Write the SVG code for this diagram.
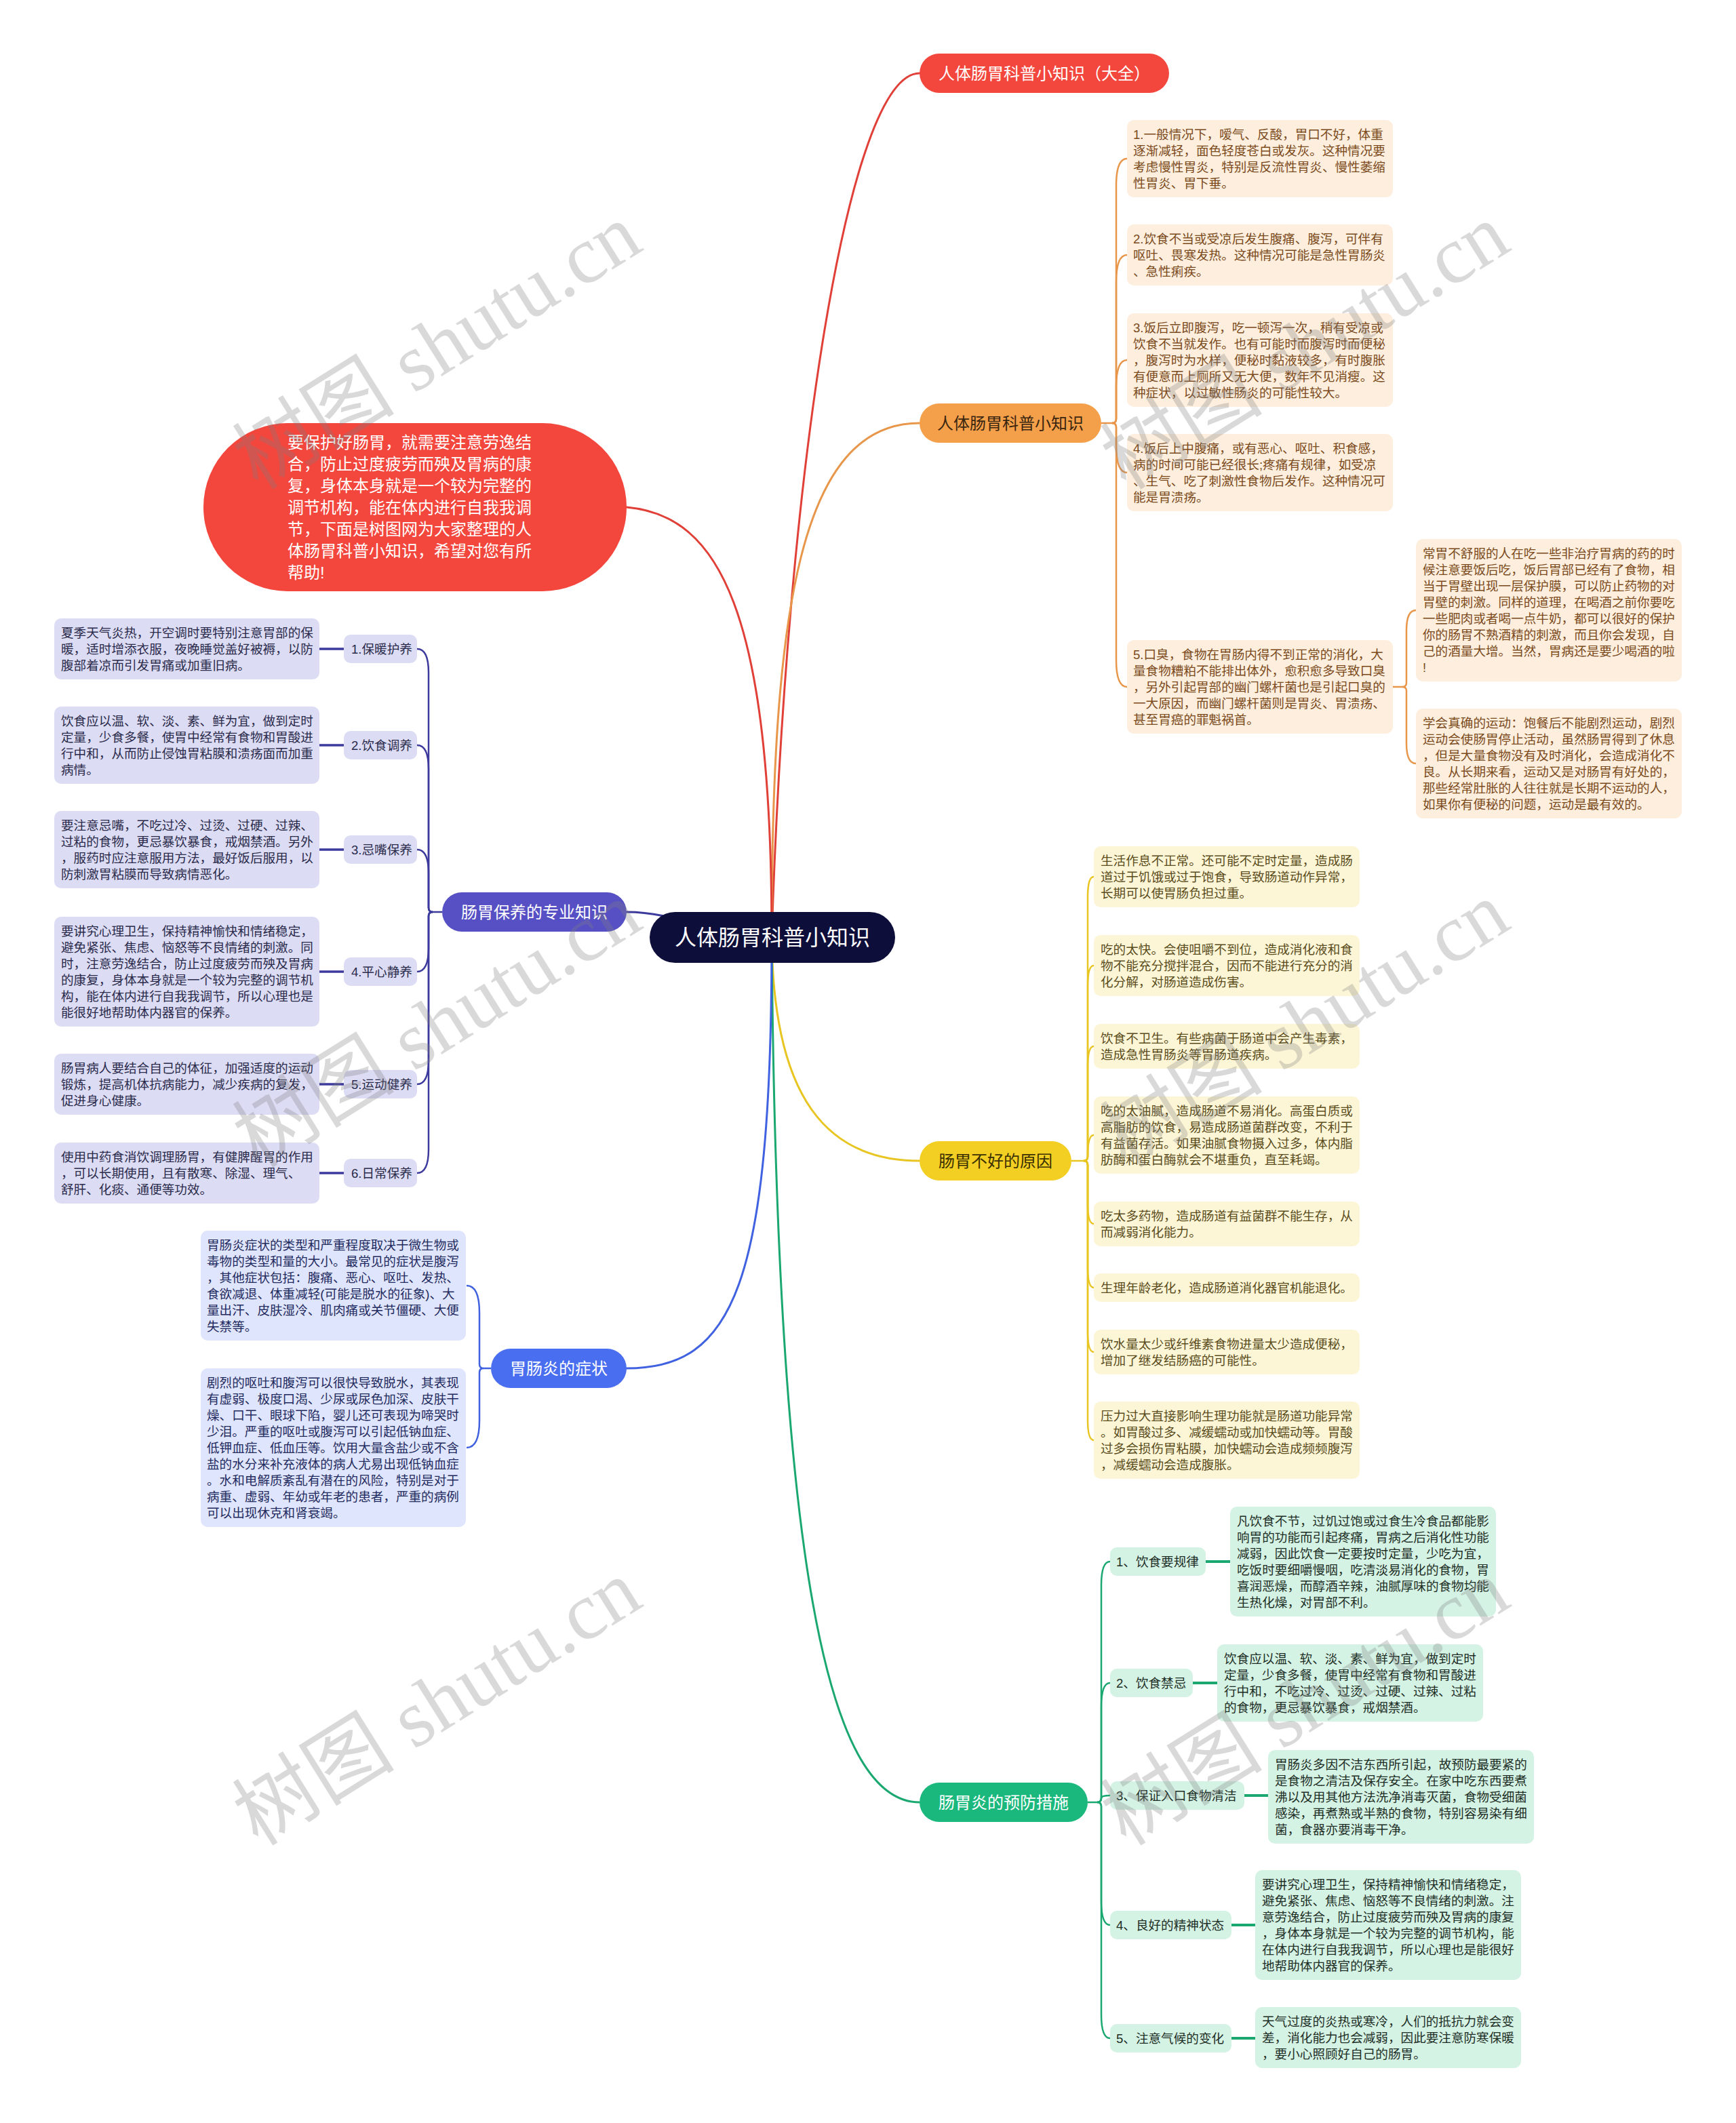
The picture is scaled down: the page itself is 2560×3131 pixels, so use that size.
<svg xmlns="http://www.w3.org/2000/svg" width="2560" height="3131" viewBox="0 0 2560 3131">
<style>
text{font-family:"Liberation Sans","Noto Sans CJK SC",sans-serif}
.t{font-size:18.6px}
.n{font-size:24px;text-anchor:middle}
.c{fill:none;stroke-width:3;stroke-linecap:round}
.ob{fill:#fdeedd}.ot{fill:#7b4a1c}
.yb{fill:#fdf6d6}.yt{fill:#5a4c1c}
.gb{fill:#d4f3e4}.gt{fill:#1e2e26}
.pb{fill:#dcdcf5}.pt{fill:#2a2a4a}
.bb{fill:#dfe5fc}.bt{fill:#1f2a5e}
.wm{font-family:"Liberation Serif","Noto Sans CJK SC",serif;font-size:120px;fill:#808080;fill-opacity:0.3;text-anchor:middle}
</style>
<rect width="2560" height="3131" fill="#ffffff"/>
<g id="connectors">
<path class="c" stroke="#e04038" d="M1138 1382 C1160 700 1250 108 1356 108"/>
<path class="c" stroke="#e8964a" d="M1138 1382 C1138 900 1180 624 1356 624"/>
<path class="c" stroke="#e8c520" d="M1138 1382 C1140 1620 1220 1712 1356 1712"/>
<path class="c" stroke="#1aa870" d="M1138 1382 C1145 2300 1220 2658 1356 2658"/>
<path class="c" stroke="#4062e0" d="M1138 1382 C1138 1900 1080 2018 924 2018"/>
<path class="c" stroke="#3c3a9c" d="M924 1345 C1000 1345 1060 1382 1138 1382"/>
<path class="c" stroke="#e04038" d="M924 748 C1060 760 1138 900 1138 1382"/>
<g stroke="#e8964a" stroke-width="2.5" fill="none">
<path d="M1624 624 L1640 624 Q1646 624 1646 618 L1646 274 Q1646 234 1662 234"/>
<path d="M1640 624 Q1646 624 1646 618 L1646 416 Q1646 376 1662 376"/>
<path d="M1640 624 Q1646 624 1646 618 L1646 571 Q1646 531 1662 531"/>
<path d="M1640 624 Q1646 624 1646 630 L1646 657 Q1646 697 1662 697"/>
<path d="M1640 624 Q1646 624 1646 630 L1646 973 Q1646 1013 1662 1013"/>
<path d="M2054 1013 L2068 1013 Q2074 1013 2074 1007 L2074 930 Q2074 900 2088 900"/>
<path d="M2068 1013 Q2074 1013 2074 1019 L2074 1096 Q2074 1126 2088 1126"/>
</g>
<g stroke="#e8c520" stroke-width="2.5" fill="none">
<path d="M1580 1712 L1598 1712 Q1604 1712 1604 1706 L1604 1323 Q1604 1293 1613 1293"/>
<path d="M1598 1712 Q1604 1712 1604 1706 L1604 1454 Q1604 1424 1613 1424"/>
<path d="M1598 1712 Q1604 1712 1604 1706 L1604 1573 Q1604 1543 1613 1543"/>
<path d="M1598 1712 Q1604 1712 1604 1704 Q1604 1674 1613 1674"/>
<path d="M1598 1712 Q1604 1712 1604 1718 L1604 1775 Q1604 1805 1613 1805"/>
<path d="M1598 1712 Q1604 1712 1604 1718 L1604 1869 Q1604 1899 1613 1899"/>
<path d="M1598 1712 Q1604 1712 1604 1718 L1604 1964 Q1604 1994 1613 1994"/>
<path d="M1598 1712 Q1604 1712 1604 1718 L1604 2094 Q1604 2124 1613 2124"/>
</g>
<g stroke="#1aa870" stroke-width="2.5" fill="none">
<path d="M1604 2658 L1618 2658 Q1624 2658 1624 2652 L1624 2338 Q1624 2303 1637 2303"/>
<path d="M1618 2658 Q1624 2658 1624 2652 L1624 2517 Q1624 2482 1637 2482"/>
<path d="M1618 2658 Q1624 2658 1624 2652 Q1624 2648 1637 2648"/>
<path d="M1618 2658 Q1624 2658 1624 2664 L1624 2804 Q1624 2839 1637 2839"/>
<path d="M1618 2658 Q1624 2658 1624 2664 L1624 2971 Q1624 3006 1637 3006"/>
</g>
<g stroke="#1aa870" stroke-width="4" fill="none">
<path d="M1778 2303 H1814"/>
<path d="M1759 2482 H1795"/>
<path d="M1835 2648 H1870"/>
<path d="M1816 2839 H1851"/>
<path d="M1816 3006 H1851"/>
</g>
<g stroke="#3c3a9c" stroke-width="2.5" fill="none">
<path d="M652 1345 L638 1345 Q632 1345 632 1339 L632 992 Q632 957 615 957"/>
<path d="M638 1345 Q632 1345 632 1339 L632 1134 Q632 1099 615 1099"/>
<path d="M638 1345 Q632 1345 632 1339 L632 1288 Q632 1253 615 1253"/>
<path d="M638 1345 Q632 1345 632 1351 L632 1398 Q632 1433 615 1433"/>
<path d="M638 1345 Q632 1345 632 1351 L632 1564 Q632 1599 615 1599"/>
<path d="M638 1345 Q632 1345 632 1351 L632 1695 Q632 1730 615 1730"/>
</g>
<g stroke="#3c3a9c" stroke-width="3.5" fill="none">
<path d="M471 957 H507"/>
<path d="M471 1099 H507"/>
<path d="M471 1253 H507"/>
<path d="M471 1433 H507"/>
<path d="M471 1599 H507"/>
<path d="M471 1730 H507"/>
</g>
<g stroke="#4062e0" stroke-width="2.5" fill="none">
<path d="M724 2018 L713 2018 Q707 2018 707 2012 L707 1936 Q707 1896 688 1896"/>
<path d="M713 2018 Q707 2018 707 2024 L707 2095 Q707 2135 688 2135"/>
</g>
</g>

<g id="root">
<rect x="958" y="1345" width="362" height="75" rx="37.5" fill="#0e0e3a"/>
<text x="1139" y="1394" font-size="32" fill="#ffffff" text-anchor="middle">人体肠胃科普小知识</text>
</g>

<g id="intro">
<rect x="300" y="624" width="624" height="248" rx="124" fill="#f3463d"/>
<text x="424" y="661" font-size="24" fill="#ffffff"><tspan x="424">要保护好肠胃，就需要注意劳逸结</tspan><tspan x="424" dy="32">合，防止过度疲劳而殃及胃病的康</tspan><tspan x="424" dy="32">复，身体本身就是一个较为完整的</tspan><tspan x="424" dy="32">调节机构，能在体内进行自我我调</tspan><tspan x="424" dy="32">节，下面是树图网为大家整理的人</tspan><tspan x="424" dy="32">体肠胃科普小知识，希望对您有所</tspan><tspan x="424" dy="32">帮助!</tspan></text>
</g>

<g id="b-top">
<rect x="1356" y="79" width="368" height="58" rx="29" fill="#f3463d"/>
<text class="n" x="1540" y="117" fill="#ffffff">人体肠胃科普小知识（大全）</text>
</g>

<g id="b-orange">
<rect x="1356" y="595" width="268" height="58" rx="29" fill="#f4a04a"/>
<text class="n" x="1490" y="633" fill="#3b2610">人体肠胃科普小知识</text>
</g>
<g id="o1"><rect class="ob" x="1662" y="177" width="392" height="114" rx="10"/>
<text class="t ot" x="1671" y="205"><tspan x="1671">1.一般情况下，嗳气、反酸，胃口不好，体重</tspan><tspan x="1671" dy="24">逐渐减轻，面色轻度苍白或发灰。这种情况要</tspan><tspan x="1671" dy="24">考虑慢性胃炎，特别是反流性胃炎、慢性萎缩</tspan><tspan x="1671" dy="24">性胃炎、胃下垂。</tspan></text></g>
<g id="o2"><rect class="ob" x="1662" y="331" width="392" height="90" rx="10"/>
<text class="t ot" x="1671" y="359"><tspan x="1671">2.饮食不当或受凉后发生腹痛、腹泻，可伴有</tspan><tspan x="1671" dy="24">呕吐、畏寒发热。这种情况可能是急性胃肠炎</tspan><tspan x="1671" dy="24">、急性痢疾。</tspan></text></g>
<g id="o3"><rect class="ob" x="1662" y="462" width="392" height="138" rx="10"/>
<text class="t ot" x="1671" y="490"><tspan x="1671">3.饭后立即腹泻，吃一顿泻一次，稍有受凉或</tspan><tspan x="1671" dy="24">饮食不当就发作。也有可能时而腹泻时而便秘</tspan><tspan x="1671" dy="24">，腹泻时为水样，便秘时黏液较多，有时腹胀</tspan><tspan x="1671" dy="24">有便意而上厕所又无大便，数年不见消瘦。这</tspan><tspan x="1671" dy="24">种症状，以过敏性肠炎的可能性较大。</tspan></text></g>
<g id="o4"><rect class="ob" x="1662" y="640" width="392" height="114" rx="10"/>
<text class="t ot" x="1671" y="668"><tspan x="1671">4.饭后上中腹痛，或有恶心、呕吐、积食感，</tspan><tspan x="1671" dy="24">病的时间可能已经很长;疼痛有规律，如受凉</tspan><tspan x="1671" dy="24">、生气、吃了刺激性食物后发作。这种情况可</tspan><tspan x="1671" dy="24">能是胃溃疡。</tspan></text></g>
<g id="o5"><rect class="ob" x="1662" y="944" width="392" height="138" rx="10"/>
<text class="t ot" x="1671" y="972"><tspan x="1671">5.口臭，食物在胃肠内得不到正常的消化，大</tspan><tspan x="1671" dy="24">量食物糟粕不能排出体外，愈积愈多导致口臭</tspan><tspan x="1671" dy="24">，另外引起胃部的幽门螺杆菌也是引起口臭的</tspan><tspan x="1671" dy="24">一大原因，而幽门螺杆菌则是胃炎、胃溃疡、</tspan><tspan x="1671" dy="24">甚至胃癌的罪魁祸首。</tspan></text></g>
<g id="o5a"><rect class="ob" x="2088" y="795" width="392" height="210" rx="10"/>
<text class="t ot" x="2098" y="823"><tspan x="2098">常胃不舒服的人在吃一些非治疗胃病的药的时</tspan><tspan x="2098" dy="24">候注意要饭后吃，饭后胃部已经有了食物，相</tspan><tspan x="2098" dy="24">当于胃壁出现一层保护膜，可以防止药物的对</tspan><tspan x="2098" dy="24">胃壁的刺激。同样的道理，在喝酒之前你要吃</tspan><tspan x="2098" dy="24">一些肥肉或者喝一点牛奶，都可以很好的保护</tspan><tspan x="2098" dy="24">你的肠胃不熟酒精的刺激，而且你会发现，自</tspan><tspan x="2098" dy="24">己的酒量大增。当然，胃病还是要少喝酒的啦</tspan><tspan x="2098" dy="24">!</tspan></text></g>
<g id="o5b"><rect class="ob" x="2088" y="1045" width="392" height="162" rx="10"/>
<text class="t ot" x="2098" y="1073"><tspan x="2098">学会真确的运动：饱餐后不能剧烈运动，剧烈</tspan><tspan x="2098" dy="24">运动会使肠胃停止活动，虽然肠胃得到了休息</tspan><tspan x="2098" dy="24">，但是大量食物没有及时消化，会造成消化不</tspan><tspan x="2098" dy="24">良。从长期来看，运动又是对肠胃有好处的，</tspan><tspan x="2098" dy="24">那些经常肚胀的人往往就是长期不运动的人，</tspan><tspan x="2098" dy="24">如果你有便秘的问题，运动是最有效的。</tspan></text></g>

<g id="b-yellow">
<rect x="1356" y="1683" width="224" height="58" rx="29" fill="#f3cf23"/>
<text class="n" x="1468" y="1721" fill="#3a3000">肠胃不好的原因</text>
</g>
<g id="y1"><rect class="yb" x="1613" y="1248" width="392" height="90" rx="10"/>
<text class="t yt" x="1623" y="1276"><tspan x="1623">生活作息不正常。还可能不定时定量，造成肠</tspan><tspan x="1623" dy="24">道过于饥饿或过于饱食，导致肠道动作异常，</tspan><tspan x="1623" dy="24">长期可以使胃肠负担过重。</tspan></text></g>
<g id="y2"><rect class="yb" x="1613" y="1379" width="392" height="90" rx="10"/>
<text class="t yt" x="1623" y="1407"><tspan x="1623">吃的太快。会使咀嚼不到位，造成消化液和食</tspan><tspan x="1623" dy="24">物不能充分搅拌混合，因而不能进行充分的消</tspan><tspan x="1623" dy="24">化分解，对肠道造成伤害。</tspan></text></g>
<g id="y3"><rect class="yb" x="1613" y="1510" width="392" height="66" rx="10"/>
<text class="t yt" x="1623" y="1538"><tspan x="1623">饮食不卫生。有些病菌于肠道中会产生毒素，</tspan><tspan x="1623" dy="24">造成急性胃肠炎等胃肠道疾病。</tspan></text></g>
<g id="y4"><rect class="yb" x="1613" y="1617" width="392" height="114" rx="10"/>
<text class="t yt" x="1623" y="1645"><tspan x="1623">吃的太油腻，造成肠道不易消化。高蛋白质或</tspan><tspan x="1623" dy="24">高脂肪的饮食，易造成肠道菌群改变，不利于</tspan><tspan x="1623" dy="24">有益菌存活。如果油腻食物摄入过多，体内脂</tspan><tspan x="1623" dy="24">肪酶和蛋白酶就会不堪重负，直至耗竭。</tspan></text></g>
<g id="y5"><rect class="yb" x="1613" y="1772" width="392" height="66" rx="10"/>
<text class="t yt" x="1623" y="1800"><tspan x="1623">吃太多药物，造成肠道有益菌群不能生存，从</tspan><tspan x="1623" dy="24">而减弱消化能力。</tspan></text></g>
<g id="y6"><rect class="yb" x="1613" y="1878" width="392" height="42" rx="10"/>
<text class="t yt" x="1623" y="1906">生理年龄老化，造成肠道消化器官机能退化。</text></g>
<g id="y7"><rect class="yb" x="1613" y="1961" width="392" height="66" rx="10"/>
<text class="t yt" x="1623" y="1989"><tspan x="1623">饮水量太少或纤维素食物进量太少造成便秘，</tspan><tspan x="1623" dy="24">增加了继发结肠癌的可能性。</tspan></text></g>
<g id="y8"><rect class="yb" x="1613" y="2067" width="392" height="114" rx="10"/>
<text class="t yt" x="1623" y="2095"><tspan x="1623">压力过大直接影响生理功能就是肠道功能异常</tspan><tspan x="1623" dy="24">。如胃酸过多、减缓蠕动或加快蠕动等。胃酸</tspan><tspan x="1623" dy="24">过多会损伤胃粘膜，加快蠕动会造成频频腹泻</tspan><tspan x="1623" dy="24">，减缓蠕动会造成腹胀。</tspan></text></g>

<g id="b-green">
<rect x="1356" y="2629" width="248" height="58" rx="29" fill="#1bb87e"/>
<text class="n" x="1480" y="2667" fill="#ffffff">肠胃炎的预防措施</text>
</g>
<g id="gl1"><rect class="gb" x="1637" y="2282" width="141" height="42" rx="10"/><text class="t gt" x="1646" y="2310">1、饮食要规律</text></g>
<g id="gl2"><rect class="gb" x="1637" y="2461" width="122" height="42" rx="10"/><text class="t gt" x="1646" y="2489">2、饮食禁忌</text></g>
<g id="gl3"><rect class="gb" x="1637" y="2627" width="198" height="42" rx="10"/><text class="t gt" x="1646" y="2655">3、保证入口食物清洁</text></g>
<g id="gl4"><rect class="gb" x="1637" y="2818" width="179" height="42" rx="10"/><text class="t gt" x="1646" y="2846">4、良好的精神状态</text></g>
<g id="gl5"><rect class="gb" x="1637" y="2985" width="179" height="42" rx="10"/><text class="t gt" x="1646" y="3013">5、注意气候的变化</text></g>
<g id="g1"><rect class="gb" x="1814" y="2222" width="392" height="162" rx="10"/>
<text class="t gt" x="1824" y="2250"><tspan x="1824">凡饮食不节，过饥过饱或过食生冷食品都能影</tspan><tspan x="1824" dy="24">响胃的功能而引起疼痛，胃病之后消化性功能</tspan><tspan x="1824" dy="24">减弱，因此饮食一定要按时定量，少吃为宜，</tspan><tspan x="1824" dy="24">吃饭时要细嚼慢咽，吃清淡易消化的食物，胃</tspan><tspan x="1824" dy="24">喜润恶燥，而醇酒辛辣，油腻厚味的食物均能</tspan><tspan x="1824" dy="24">生热化燥，对胃部不利。</tspan></text></g>
<g id="g2"><rect class="gb" x="1795" y="2425" width="392" height="114" rx="10"/>
<text class="t gt" x="1805" y="2453"><tspan x="1805">饮食应以温、软、淡、素、鲜为宜，做到定时</tspan><tspan x="1805" dy="24">定量，少食多餐，使胃中经常有食物和胃酸进</tspan><tspan x="1805" dy="24">行中和，不吃过冷、过烫、过硬、过辣、过粘</tspan><tspan x="1805" dy="24">的食物，更忌暴饮暴食，戒烟禁酒。</tspan></text></g>
<g id="g3"><rect class="gb" x="1870" y="2581" width="392" height="138" rx="10"/>
<text class="t gt" x="1880" y="2609"><tspan x="1880">胃肠炎多因不洁东西所引起，故预防最要紧的</tspan><tspan x="1880" dy="24">是食物之清洁及保存安全。在家中吃东西要煮</tspan><tspan x="1880" dy="24">沸以及用其他方法洗净消毒灭菌，食物受细菌</tspan><tspan x="1880" dy="24">感染，再煮熟或半熟的食物，特别容易染有细</tspan><tspan x="1880" dy="24">菌，食器亦要消毒干净。</tspan></text></g>
<g id="g4"><rect class="gb" x="1851" y="2758" width="392" height="162" rx="10"/>
<text class="t gt" x="1861" y="2786"><tspan x="1861">要讲究心理卫生，保持精神愉快和情绪稳定，</tspan><tspan x="1861" dy="24">避免紧张、焦虑、恼怒等不良情绪的刺激。注</tspan><tspan x="1861" dy="24">意劳逸结合，防止过度疲劳而殃及胃病的康复</tspan><tspan x="1861" dy="24">，身体本身就是一个较为完整的调节机构，能</tspan><tspan x="1861" dy="24">在体内进行自我我调节，所以心理也是能很好</tspan><tspan x="1861" dy="24">地帮助体内器官的保养。</tspan></text></g>
<g id="g5"><rect class="gb" x="1851" y="2960" width="392" height="90" rx="10"/>
<text class="t gt" x="1861" y="2988"><tspan x="1861">天气过度的炎热或寒冷，人们的抵抗力就会变</tspan><tspan x="1861" dy="24">差，消化能力也会减弱，因此要注意防寒保暖</tspan><tspan x="1861" dy="24">，要小心照顾好自己的肠胃。</tspan></text></g>

<g id="b-purple">
<rect x="652" y="1316" width="272" height="58" rx="29" fill="#5650c4"/>
<text class="n" x="788" y="1354" fill="#ffffff">肠胃保养的专业知识</text>
</g>
<g id="pl1"><rect class="pb" x="507" y="936" width="108" height="42" rx="10"/><text class="t pt" x="518" y="964">1.保暖护养</text></g>
<g id="pl2"><rect class="pb" x="507" y="1078" width="108" height="42" rx="10"/><text class="t pt" x="518" y="1106">2.饮食调养</text></g>
<g id="pl3"><rect class="pb" x="507" y="1232" width="108" height="42" rx="10"/><text class="t pt" x="518" y="1260">3.忌嘴保养</text></g>
<g id="pl4"><rect class="pb" x="507" y="1412" width="108" height="42" rx="10"/><text class="t pt" x="518" y="1440">4.平心静养</text></g>
<g id="pl5"><rect class="pb" x="507" y="1578" width="108" height="42" rx="10"/><text class="t pt" x="518" y="1606">5.运动健养</text></g>
<g id="pl6"><rect class="pb" x="507" y="1709" width="108" height="42" rx="10"/><text class="t pt" x="518" y="1737">6.日常保养</text></g>
<g id="p1"><rect class="pb" x="80" y="912" width="391" height="90" rx="10"/>
<text class="t pt" x="90" y="940"><tspan x="90">夏季天气炎热，开空调时要特别注意胃部的保</tspan><tspan x="90" dy="24">暖，适时增添衣服，夜晚睡觉盖好被褥，以防</tspan><tspan x="90" dy="24">腹部着凉而引发胃痛或加重旧病。</tspan></text></g>
<g id="p2"><rect class="pb" x="80" y="1042" width="391" height="114" rx="10"/>
<text class="t pt" x="90" y="1070"><tspan x="90">饮食应以温、软、淡、素、鲜为宜，做到定时</tspan><tspan x="90" dy="24">定量，少食多餐，使胃中经常有食物和胃酸进</tspan><tspan x="90" dy="24">行中和，从而防止侵蚀胃粘膜和溃疡面而加重</tspan><tspan x="90" dy="24">病情。</tspan></text></g>
<g id="p3"><rect class="pb" x="80" y="1196" width="391" height="114" rx="10"/>
<text class="t pt" x="90" y="1224"><tspan x="90">要注意忌嘴，不吃过冷、过烫、过硬、过辣、</tspan><tspan x="90" dy="24">过粘的食物，更忌暴饮暴食，戒烟禁酒。另外</tspan><tspan x="90" dy="24">，服药时应注意服用方法，最好饭后服用，以</tspan><tspan x="90" dy="24">防刺激胃粘膜而导致病情恶化。</tspan></text></g>
<g id="p4"><rect class="pb" x="80" y="1352" width="391" height="162" rx="10"/>
<text class="t pt" x="90" y="1380"><tspan x="90">要讲究心理卫生，保持精神愉快和情绪稳定，</tspan><tspan x="90" dy="24">避免紧张、焦虑、恼怒等不良情绪的刺激。同</tspan><tspan x="90" dy="24">时，注意劳逸结合，防止过度疲劳而殃及胃病</tspan><tspan x="90" dy="24">的康复，身体本身就是一个较为完整的调节机</tspan><tspan x="90" dy="24">构，能在体内进行自我我调节，所以心理也是</tspan><tspan x="90" dy="24">能很好地帮助体内器官的保养。</tspan></text></g>
<g id="p5"><rect class="pb" x="80" y="1554" width="391" height="90" rx="10"/>
<text class="t pt" x="90" y="1582"><tspan x="90">肠胃病人要结合自己的体征，加强适度的运动</tspan><tspan x="90" dy="24">锻炼，提高机体抗病能力，减少疾病的复发，</tspan><tspan x="90" dy="24">促进身心健康。</tspan></text></g>
<g id="p6"><rect class="pb" x="80" y="1685" width="391" height="90" rx="10"/>
<text class="t pt" x="90" y="1713"><tspan x="90">使用中药食消饮调理肠胃，有健脾醒胃的作用</tspan><tspan x="90" dy="24">，可以长期使用，且有散寒、除湿、理气、</tspan><tspan x="90" dy="24">舒肝、化痰、通便等功效。</tspan></text></g>

<g id="b-blue">
<rect x="724" y="1989" width="200" height="58" rx="29" fill="#4a6ef0"/>
<text class="n" x="824" y="2027" fill="#ffffff">胃肠炎的症状</text>
</g>
<g id="bl1"><rect class="bb" x="296" y="1815" width="391" height="162" rx="10"/>
<text class="t bt" x="305" y="1843"><tspan x="305">胃肠炎症状的类型和严重程度取决于微生物或</tspan><tspan x="305" dy="24">毒物的类型和量的大小。最常见的症状是腹泻</tspan><tspan x="305" dy="24">，其他症状包括：腹痛、恶心、呕吐、发热、</tspan><tspan x="305" dy="24">食欲减退、体重减轻(可能是脱水的征象)、大</tspan><tspan x="305" dy="24">量出汗、皮肤湿冷、肌肉痛或关节僵硬、大便</tspan><tspan x="305" dy="24">失禁等。</tspan></text></g>
<g id="bl2"><rect class="bb" x="296" y="2018" width="391" height="234" rx="10"/>
<text class="t bt" x="305" y="2046"><tspan x="305">剧烈的呕吐和腹泻可以很快导致脱水，其表现</tspan><tspan x="305" dy="24">有虚弱、极度口渴、少尿或尿色加深、皮肤干</tspan><tspan x="305" dy="24">燥、口干、眼球下陷，婴儿还可表现为啼哭时</tspan><tspan x="305" dy="24">少泪。严重的呕吐或腹泻可以引起低钠血症、</tspan><tspan x="305" dy="24">低钾血症、低血压等。饮用大量含盐少或不含</tspan><tspan x="305" dy="24">盐的水分来补充液体的病人尤易出现低钠血症</tspan><tspan x="305" dy="24">。水和电解质紊乱有潜在的风险，特别是对于</tspan><tspan x="305" dy="24">病重、虚弱、年幼或年老的患者，严重的病例</tspan><tspan x="305" dy="24">可以出现休克和肾衰竭。</tspan></text></g>

<g id="watermarks">
<text class="wm" x="644" y="552" transform="rotate(-32 644 510)">树图 shutu.cn</text>
<text class="wm" x="1924" y="552" transform="rotate(-32 1924 510)">树图 shutu.cn</text>
<text class="wm" x="644" y="1552" transform="rotate(-32 644 1510)">树图 shutu.cn</text>
<text class="wm" x="1924" y="1552" transform="rotate(-32 1924 1510)">树图 shutu.cn</text>
<text class="wm" x="644" y="2552" transform="rotate(-32 644 2510)">树图 shutu.cn</text>
<text class="wm" x="1924" y="2552" transform="rotate(-32 1924 2510)">树图 shutu.cn</text>
</g>
</svg>
